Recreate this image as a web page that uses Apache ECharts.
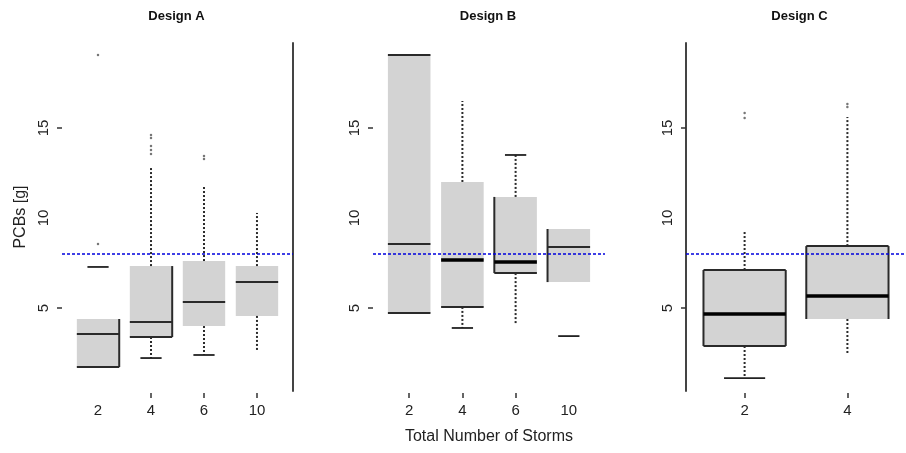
<!DOCTYPE html>
<html><head><meta charset="utf-8">
<script src="https://cdn.jsdelivr.net/npm/echarts@6/dist/echarts.min.js"></script>
<style>html,body{margin:0;padding:0;background:#fff}#c{width:906px;height:453px}</style>
</head><body><div id="c"></div>
<script>
// ---- data ----
const panelTitles = ['Design A', 'Design B', 'Design C'];
const catsA = ['2', '4', '6', '10'];
const catsB = ['2', '4', '6', '10'];
const catsC = ['2', '4'];
// [lowWhisker, Q1, median, Q3, highWhisker]
const statsA = [
  [1.72, 1.72, 3.56, 4.39, 7.28],
  [2.22, 3.39, 4.22, 7.33, 12.83],
  [2.39, 4.00, 5.33, 7.61, 11.72],
  [2.67, 4.56, 6.44, 7.33, 10.28]
];
const statsB = [
  [4.72, 4.72, 8.56, 19.06, 19.06],
  [3.89, 5.06, 7.67, 12.00, 16.50],
  [4.11, 6.94, 7.56, 11.17, 13.50],
  [3.44, 6.44, 8.39, 9.39, 9.39]
];
const statsC = [
  [1.11, 2.89, 4.67, 7.11, 9.28],
  [2.44, 4.39, 5.67, 8.44, 15.61]
];
const outliersA = [[19.06, 8.56], [14.61, 14.44, 14.00, 13.78, 13.56], [13.44, 13.28], []];
const outliersB = [[], [], [], []];
const outliersC = [[15.83, 15.56], [16.33, 16.17]];
const referenceLevel = 8;
const yTickLabels = [5, 10, 15];
const yTickMarks = [5, 15];
const xTitle = 'Total Number of Storms';
const yTitle = 'PCBs [g]';

// ---- drawing styles (which parts of each box are drawn) ----
const drawA = [
  {edges: 'rb', lo: '', hi: 'c', thick: false},
  {edges: 'rb', lo: 'dc', hi: 'd', thick: false},
  {edges: '', lo: 'dc', hi: 'd', thick: false},
  {edges: '', lo: 'd', hi: 'd', thick: false}
];
const drawB = [
  {edges: 'tb', lo: '', hi: '', thick: false},
  {edges: 'b', lo: 'dc', hi: 'd', thick: true},
  {edges: 'lb', lo: 'd', hi: 'dc', thick: true},
  {edges: 'l', lo: 'c', hi: '', thick: false}
];
const drawC = [
  {edges: 'tblr', lo: 'dc', hi: 'd', thick: true},
  {edges: 'tlr', lo: 'd', hi: 'd', thick: true}
];

const Y_MIN = 0.39, Y_MAX = 19.72;
const FONT = '"Liberation Sans", Arial, sans-serif';
const TXT = '#222';

function renderer(spec) {
  return function (params, api) {
    const i = api.value(0);
    const lo = api.value(1), q1 = api.value(2), med = api.value(3), q3 = api.value(4), hi = api.value(5);
    const s = spec[params.dataIndex];
    const hw = api.size([0.8, 0])[0] / 2;
    const cx = api.coord([i, med])[0];
    const y = v => api.coord([i, v])[1];
    const L = cx - hw, R = cx + hw;
    const yq1 = y(q1), yq3 = y(q3), ym = y(med), ylo = y(lo), yhi = y(hi);
    const edgeStyle = {stroke: '#2a2a2a', lineWidth: 2};
    const ch = [];
    ch.push({type: 'rect', shape: {x: L, y: yq3, width: 2 * hw, height: yq1 - yq3}, style: {fill: '#d3d3d3', stroke: null}});
    const dotted = {stroke: '#2a2a2a', lineWidth: 2, lineDash: [2, 2]};
    const capStyle = {stroke: '#222', lineWidth: 1.8};
    if (s.hi.indexOf('d') >= 0) ch.push({type: 'line', shape: {x1: cx, y1: yq3, x2: cx, y2: yhi}, style: dotted});
    if (s.lo.indexOf('d') >= 0) ch.push({type: 'line', shape: {x1: cx, y1: yq1, x2: cx, y2: ylo}, style: dotted});
    if (s.hi.indexOf('c') >= 0) ch.push({type: 'line', shape: {x1: cx - hw / 2, y1: yhi, x2: cx + hw / 2, y2: yhi}, style: capStyle});
    if (s.lo.indexOf('c') >= 0) ch.push({type: 'line', shape: {x1: cx - hw / 2, y1: ylo, x2: cx + hw / 2, y2: ylo}, style: capStyle});
    if (s.edges.indexOf('t') >= 0) ch.push({type: 'line', shape: {x1: L, y1: yq3, x2: R, y2: yq3}, style: edgeStyle});
    if (s.edges.indexOf('b') >= 0) ch.push({type: 'line', shape: {x1: L, y1: yq1, x2: R, y2: yq1}, style: edgeStyle});
    if (s.edges.indexOf('l') >= 0) ch.push({type: 'line', shape: {x1: L, y1: yq3, x2: L, y2: yq1}, style: edgeStyle});
    if (s.edges.indexOf('r') >= 0) ch.push({type: 'line', shape: {x1: R, y1: yq3, x2: R, y2: yq1}, style: edgeStyle});
    ch.push({type: 'line', shape: {x1: L, y1: ym, x2: R, y2: ym},
      style: s.thick ? {stroke: '#000', lineWidth: 3.5} : {stroke: '#2a2a2a', lineWidth: 2}});
    return {type: 'group', children: ch};
  };
}

const panels = [
  {cats: catsA, stats: statsA, out: outliersA, draw: drawA, left: 62, width: 231, xmin: 0.32, xmax: 4.68, xticks: [2, 3, 4], leftLine: false, rightLine: true},
  {cats: catsB, stats: statsB, out: outliersB, draw: drawB, left: 373, width: 232, xmin: 0.32, xmax: 4.68, xticks: [1, 2, 3], leftLine: false, rightLine: false},
  {cats: catsC, stats: statsC, out: outliersC, draw: drawC, left: 686, width: 229, xmin: 0.43, xmax: 2.57, xticks: [1, 2], leftLine: true, rightLine: false}
];

const grid = [], xAxis = [], yAxis = [], series = [], title = [];
panels.forEach((p, k) => {
  grid.push({left: p.left, width: p.width, top: 43, height: 348});
  title.push({text: panelTitles[k], left: p.left + p.width / 2 - 1, top: 10, padding: 0, textAlign: 'center',
    textStyle: {fontFamily: FONT, fontSize: 13, fontWeight: 'bold', color: '#111'}});
  const cats = p.cats;
  xAxis.push({type: 'value', gridIndex: k, min: p.xmin, max: p.xmax, offset: 2,
    axisLine: {show: false}, splitLine: {show: false},
    axisTick: {show: true, customValues: p.xticks, length: 5, lineStyle: {color: '#333', width: 1.5}},
    axisLabel: {customValues: cats.map((c, j) => j + 1), formatter: v => cats[Math.round(v) - 1],
      margin: 10, fontFamily: FONT, fontSize: 15, color: TXT}});
  yAxis.push({type: 'value', gridIndex: k, min: Y_MIN, max: Y_MAX,
    axisLine: {show: p.leftLine, lineStyle: {color: '#444', width: 2}},
    splitLine: {show: false},
    axisTick: {show: true, customValues: yTickMarks, length: 5, lineStyle: {color: '#333', width: 1.5}},
    axisLabel: {customValues: yTickLabels, rotate: 90, margin: 11, fontFamily: FONT, fontSize: 15, color: TXT}});
  const yIdx = yAxis.length - 1;
  if (p.rightLine) {
    yAxis.push({type: 'value', gridIndex: k, min: Y_MIN, max: Y_MAX, position: 'right',
      axisLine: {show: true, lineStyle: {color: '#444', width: 2}},
      axisTick: {show: false}, axisLabel: {show: false}, splitLine: {show: false}});
  }
  series.push({type: 'custom', xAxisIndex: k, yAxisIndex: yIdx, renderItem: renderer(p.draw),
    data: p.stats.map((s, j) => [j + 1].concat(s)), z: 2, silent: true});
  const outData = [];
  p.out.forEach((arr, j) => arr.forEach(v => outData.push([j + 1, v])));
  series.push({type: 'scatter', xAxisIndex: k, yAxisIndex: yIdx, data: outData, symbol: 'circle', symbolSize: 2.5,
    itemStyle: {color: '#555'}, z: 3, silent: true});
  series.push({type: 'line', xAxisIndex: k, yAxisIndex: yIdx, data: [[p.xmin, referenceLevel], [p.xmax, referenceLevel]],
    symbol: 'none', lineStyle: {color: '#0000dd', width: 1.6, type: [3, 2]}, z: 4, silent: true});
});

const chart = echarts.init(document.getElementById('c'), null, {renderer: 'canvas'});
chart.setOption({
  animation: false,
  title: title,
  grid: grid, xAxis: xAxis, yAxis: yAxis, series: series,
  graphic: [
    {type: 'text', x: 21, y: 217, rotation: Math.PI / 2,
      style: {text: yTitle, font: '16px ' + FONT, fill: TXT, textAlign: 'center', textVerticalAlign: 'middle'}},
    {type: 'text', x: 489, y: 437,
      style: {text: xTitle, font: '16px ' + FONT, fill: TXT, textAlign: 'center', textVerticalAlign: 'middle'}}
  ]
});
</script></body></html>
